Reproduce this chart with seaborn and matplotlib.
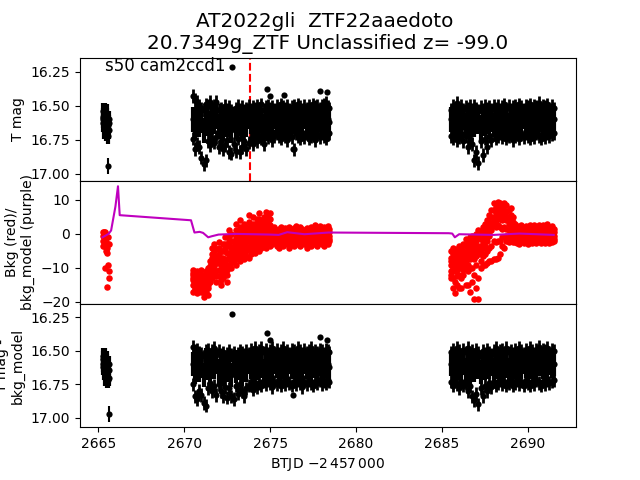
import numpy as np
import seaborn as sns
import matplotlib.pyplot as plt

# first short chunk of the sector
t_s = [2665.25, 2665.27, 2665.30, 2665.32, 2665.35, 2665.37, 2665.40, 2665.42, 2665.45, 2665.47, 2665.50, 2665.52, 2665.55, 2665.57, 2665.60, 2665.62, 2665.65, 2665.30, 2665.40, 2665.50]
top_s = [16.58, 16.63, 16.54, 16.68, 16.56, 16.66, 16.60, 16.54, 16.70, 16.62, 16.58, 16.70, 16.64, 16.72, 16.60, 16.68, 16.63, 16.60, 16.66, 16.55]
sub_s = [16.56, 16.62, 16.54, 16.66, 16.56, 16.70, 16.60, 16.54, 16.68, 16.62, 16.58, 16.72, 16.64, 16.72, 16.60, 16.70, 16.64, 16.60, 16.66, 16.56]
bkg_s = [-0.5, 0.5, -2, 0.5, -3.5, 0.3, -1.5, 0.5, -5, -2.5, -4, -5.5, -9, -1, -11, -3, -13, -3.5, -10, -15.5]

t_a = [2670.50, 2670.62, 2670.75, 2670.87, 2671.00, 2671.13, 2671.25, 2671.38, 2671.50, 2671.62,
       2671.75, 2671.88, 2672.00, 2672.12, 2672.25, 2672.38, 2672.50, 2672.62, 2672.75, 2672.88,
       2673.00, 2673.12, 2673.25, 2673.38, 2673.50, 2673.62, 2673.75, 2673.88, 2674.00, 2674.12,
       2674.25, 2674.38, 2674.50, 2674.62, 2674.75, 2674.88, 2675.00, 2675.12, 2675.25, 2675.38,
       2675.50, 2675.62, 2675.75, 2675.88, 2676.00, 2676.12, 2676.25, 2676.38, 2676.50, 2676.62,
       2676.75, 2676.88, 2677.00, 2677.12, 2677.25, 2677.38, 2677.50, 2677.62, 2677.75, 2677.88,
       2678.00, 2678.12, 2678.25, 2678.38, 2678.45]
top_hi_a = [16.43, 16.46, 16.47, 16.50, 16.52, 16.53, 16.49, 16.50, 16.47, 16.52,
            16.50, 16.47, 16.53, 16.52, 16.54, 16.50, 16.53, 16.51, 16.54, 16.55,
            16.52, 16.50, 16.53, 16.51, 16.54, 16.52, 16.50, 16.53, 16.51, 16.52,
            16.50, 16.52, 16.49, 16.53, 16.51, 16.50, 16.52, 16.51, 16.53, 16.50,
            16.52, 16.49, 16.51, 16.52, 16.50, 16.53, 16.51, 16.50, 16.52, 16.49,
            16.51, 16.53, 16.50, 16.52, 16.50, 16.52, 16.49, 16.51, 16.50, 16.52,
            16.50, 16.49, 16.48, 16.51, 16.52]
top_lo_a = [16.74, 16.82, 16.78, 16.80, 16.88, 16.93, 16.90, 16.76, 16.79, 16.74,
            16.77, 16.73, 16.80, 16.76, 16.82, 16.79, 16.75, 16.84, 16.85, 16.78,
            16.83, 16.74, 16.84, 16.80, 16.76, 16.82, 16.77, 16.74, 16.78, 16.73,
            16.76, 16.72, 16.74, 16.78, 16.71, 16.73, 16.70, 16.75, 16.72, 16.70,
            16.72, 16.74, 16.70, 16.72, 16.75, 16.71, 16.73, 16.82, 16.70, 16.72,
            16.74, 16.71, 16.73, 16.70, 16.74, 16.72, 16.70, 16.75, 16.71, 16.73,
            16.70, 16.72, 16.74, 16.71, 16.70]
mid_a = [16.60, 16.66, 16.58, 16.64, 16.61, 16.68, 16.57, 16.63, 16.66, 16.60,
         16.62, 16.58, 16.65, 16.61, 16.67, 16.59, 16.64, 16.62, 16.68, 16.60,
         16.65, 16.58, 16.63, 16.67, 16.60, 16.64, 16.58, 16.62, 16.65, 16.60,
         16.63, 16.58, 16.61, 16.65, 16.59, 16.62, 16.60, 16.64, 16.58, 16.61,
         16.63, 16.59, 16.62, 16.60, 16.64, 16.58, 16.62, 16.60, 16.63, 16.59,
         16.61, 16.64, 16.58, 16.62, 16.60, 16.63, 16.59, 16.61, 16.62, 16.60,
         16.63, 16.59, 16.61, 16.60, 16.62]
sub_hi_a = [16.47, 16.50, 16.49, 16.51, 16.52, 16.54, 16.50, 16.49, 16.53, 16.50,
            16.48, 16.52, 16.50, 16.53, 16.51, 16.54, 16.52, 16.50, 16.53, 16.51,
            16.54, 16.52, 16.50, 16.51, 16.53, 16.50, 16.52, 16.49, 16.51, 16.48,
            16.52, 16.50, 16.48, 16.51, 16.49, 16.52, 16.50, 16.48, 16.51, 16.49,
            16.52, 16.50, 16.48, 16.51, 16.50, 16.52, 16.49, 16.50, 16.52, 16.48,
            16.50, 16.52, 16.49, 16.51, 16.50, 16.48, 16.52, 16.50, 16.51, 16.49,
            16.50, 16.52, 16.49, 16.50, 16.51]
sub_lo_a = [16.75, 16.84, 16.86, 16.80, 16.83, 16.89, 16.91, 16.78, 16.74, 16.80,
            16.76, 16.83, 16.75, 16.80, 16.84, 16.77, 16.85, 16.78, 16.84, 16.86,
            16.76, 16.82, 16.75, 16.80, 16.84, 16.78, 16.76, 16.75, 16.79, 16.74,
            16.77, 16.74, 16.76, 16.73, 16.75, 16.72, 16.74, 16.77, 16.73, 16.75,
            16.72, 16.76, 16.73, 16.75, 16.72, 16.74, 16.76, 16.73, 16.75, 16.72,
            16.74, 16.77, 16.73, 16.75, 16.72, 16.74, 16.76, 16.73, 16.74, 16.72,
            16.75, 16.73, 16.74, 16.72, 16.73]
bkg1_a = [-10.5, -12, -11, -13, -10.5, -12, -11, -10, -8, -4,
          -3, -4.5, -2.5, -5, -3, -1, -3.5, 1, 0, -2,
          3, 0.5, 4, 1, 3, 2, 5.5, 2.5, 5, 3,
          4.5, 6, 3.5, 5, 6.5, 5, 6, 1.5, 2, 1,
          1.5, 2, 0.5, 1.8, 1.2, 2, 0.8, 1.6, 2.2, 1,
          2, 1.4, 0.8, 1.8, 1.2, 2, 1.5, 2.6, 1.2, 2.2,
          1, 2, 1.5, 2.2, 1.5]
bkg2_a = [-12, -14, -12.5, -14.5, -12, -14, -13, -12, -9.5, -6,
          -5, -6.5, -4, -7, -5, -3, -5.5, -1, -2, -3.5,
          1, -1.5, 2, -0.5, 1.5, 0.5, 3.5, 1, 3, 1.5,
          3, 4.5, 2, 3.5, 5, 3.5, 4.5, 0.5, 1, 0,
          0.5, 1, -0.5, 1, 0.2, 1, -0.2, 0.6, 1.2, 0,
          1, 0.4, -0.2, 0.8, 0.2, 1, 0.5, 1.5, 0.2, 1.2,
          0, 1, 0.5, 1.2, 0.5]
bkg3_a = [-13.5, -15, -14, -15.5, -13.5, -15.5, -14.5, -14, -11, -8,
          -7, -8.5, -6, -9, -7, -5, -7.5, -3, -4, -5,
          -1, -3, 0, -2, -0.5, -1, 1.5, -0.5, 1, 0,
          1, 2.5, 0.5, 2, 3, 1.5, 2.5, -0.5, 0, -1,
          -0.5, 0, -1.5, 0, -0.8, 0, -1.2, -0.4, 0.2, -1,
          0, -0.6, -1.2, -0.2, -0.8, 0, -0.5, 0.5, -0.8, 0.2,
          -1, 0, -0.5, 0.2, -0.5]
bkg4_a = [-15, -16, -15.5, -15, -15, -17, -16, -16, -12.5, -10.5,
          -9.5, -11, -8.5, -12, -10, -8, -10.5, -5.5, -7, -6.5,
          -4, -5, -3, -4.5, -3.5, -3.5, -2, -3, -1.5, -2.5,
          -1.5, -1, -1.5, -0.5, -0.5, -1, -0.5, -1.8, -1.2, -2.2,
          -2, -1.5, -2.5, -1, -2, -2, -2.2, -2, -1, -2,
          -1.5, -1.5, -2, -1.5, -2, -1.5, -1.5, -1, -2, -1,
          -2, -1.5, -1.5, -1, -1.5]
bkg5_a = [-17, -16.5, -17.5, -16, -17, -18.5, -17, -18, -14, -13,
          -12, -14, -12.5, -15, -13, -12, -14, -9, -10, -8,
          -9, -7.5, -8, -7, -7.5, -6.5, -7, -6, -5, -5.5,
          -4.5, -5, -4, -3.5, -4, -3, -3.5, -3, -2.5, -3.5,
          -4, -3, -3.5, -2.5, -3, -4, -3, -3.5, -2.5, -3,
          -3.5, -2.5, -3, -4, -3, -3.5, -2.5, -3, -3.5, -2.8,
          -3, -3.5, -2.5, -3, -2.2]
# the wide rising part of the scatter needs more points (first 36 times of t_a)
bkg6_a = [-11.5, -13, -16.5, -13.5, -16, -13, -15, -13, -13.5, -11.5,
          -11, -12.5, -10.5, -13.5, -11.5, -10, -12, -7, -8.5, -7.5,
          -6.5, -6, -5.5, -6, -5.5, -5, -4.5, -4.5, -3.5, -4,
          -3, -3, -2.5, -2, -2.5, -2]
bkg7_a = [-13, -13, -15, -13, -14.5, -16, -12, -15, -10, -7,
          -8.2, -7.5, -7.2, -8, -8.5, -4, -9, -2, -5.5, -4.2,
          -2.5, -4, -1.5, -3.2, -2, -2.2, -0.2, -1.8, -0.2, -1.2,
          0, 0.8, -0.5, 0.8, 1.2, 0.2]

t_b = [2685.50, 2685.62, 2685.75, 2685.88, 2686.00, 2686.12, 2686.25, 2686.38, 2686.50, 2686.62,
       2686.75, 2686.88, 2687.00, 2687.12, 2687.25, 2687.38, 2687.50, 2687.62, 2687.75, 2687.88,
       2688.00, 2688.12, 2688.25, 2688.38, 2688.50, 2688.62, 2688.75, 2688.88, 2689.00, 2689.12,
       2689.25, 2689.38, 2689.50, 2689.62, 2689.75, 2689.88, 2690.00, 2690.12, 2690.25, 2690.38,
       2690.50, 2690.62, 2690.75, 2690.88, 2691.00, 2691.12, 2691.25, 2691.38, 2691.50]
top_hi_b = [16.53, 16.50, 16.52, 16.48, 16.53, 16.50, 16.53, 16.51, 16.52, 16.50,
            16.53, 16.50, 16.52, 16.54, 16.51, 16.53, 16.50, 16.52, 16.51, 16.53,
            16.50, 16.52, 16.50, 16.53, 16.51, 16.49, 16.52, 16.50, 16.53, 16.51,
            16.50, 16.52, 16.49, 16.51, 16.53, 16.50, 16.51, 16.49, 16.52, 16.50,
            16.51, 16.48, 16.52, 16.50, 16.51, 16.49, 16.52, 16.50, 16.52]
top_lo_b = [16.72, 16.74, 16.71, 16.75, 16.73, 16.70, 16.76, 16.72, 16.80, 16.74,
            16.78, 16.90, 16.84, 16.92, 16.76, 16.86, 16.74, 16.80, 16.72, 16.75,
            16.71, 16.74, 16.72, 16.70, 16.73, 16.71, 16.74, 16.72, 16.70, 16.75,
            16.72, 16.70, 16.74, 16.71, 16.73, 16.70, 16.72, 16.74, 16.71, 16.73,
            16.70, 16.72, 16.74, 16.71, 16.73, 16.70, 16.72, 16.71, 16.70]
mid_b = [16.60, 16.65, 16.58, 16.63, 16.61, 16.66, 16.59, 16.64, 16.62, 16.67,
         16.60, 16.64, 16.58, 16.62, 16.66, 16.60, 16.63, 16.58, 16.62, 16.60,
         16.64, 16.59, 16.62, 16.60, 16.63, 16.58, 16.61, 16.64, 16.60, 16.62,
         16.59, 16.63, 16.60, 16.62, 16.58, 16.61, 16.64, 16.60, 16.62, 16.59,
         16.63, 16.60, 16.58, 16.62, 16.60, 16.63, 16.59, 16.61, 16.60]
sub_hi_b = [16.51, 16.49, 16.52, 16.48, 16.50, 16.53, 16.49, 16.51, 16.48, 16.52,
            16.50, 16.53, 16.49, 16.51, 16.54, 16.50, 16.52, 16.49, 16.51, 16.53,
            16.50, 16.48, 16.52, 16.50, 16.49, 16.52, 16.48, 16.51, 16.50, 16.52,
            16.49, 16.51, 16.48, 16.50, 16.52, 16.49, 16.51, 16.48, 16.50, 16.52,
            16.49, 16.47, 16.51, 16.49, 16.50, 16.48, 16.51, 16.49, 16.50]
sub_lo_b = [16.73, 16.76, 16.72, 16.75, 16.78, 16.73, 16.76, 16.74, 16.80, 16.76,
            16.84, 16.87, 16.82, 16.90, 16.78, 16.84, 16.76, 16.80, 16.74, 16.77,
            16.73, 16.76, 16.74, 16.72, 16.75, 16.73, 16.76, 16.74, 16.72, 16.76,
            16.74, 16.72, 16.75, 16.73, 16.76, 16.72, 16.74, 16.76, 16.73, 16.75,
            16.72, 16.74, 16.76, 16.73, 16.75, 16.72, 16.74, 16.73, 16.72]
bkg1_b = [-5, -4, -5, -4.5, -3.5, -4, -3, -1.5, -2.5, -1,
          -0.5, -1, 0, 1, 0.5, 2, 3, 4, 5.5, 7,
          9, 8, 9.5, 9, 8, 9, 8.5, 7, 7.5, 5,
          3, 2.2, 1.5, 2.5, 1.8, 2.4, 2, 2.6, 1.6, 2.5,
          2, 2.6, 1.8, 2.5, 2, 2.8, 1.8, 2.2, 1.5]
bkg2_b = [-7, -6, -7, -6.5, -5.5, -6, -5, -3.5, -4.5, -3,
          -2.5, -3, -2, -1, -1.5, 0, 1, 2, 3.5, 5,
          7, 6, 7.5, 7, 6, 7, 6.5, 5, 5.5, 3.5,
          2, 1, 0.5, 1.5, 0.8, 1.4, 1, 1.6, 0.6, 1.5,
          1, 1.6, 0.8, 1.5, 1, 1.8, 0.8, 1.2, 0.5]
bkg3_b = [-9, -8, -9, -8.5, -7.5, -8, -7, -6, -6.5, -5,
          -4.5, -5, -4, -3.5, -3.5, -2, -1, 0, 1.5, 3,
          5, 4, 5, 4.5, 4, 4.5, 4, 3, 3.5, 2,
          0.5, -0.2, -0.5, 0.2, -0.4, 0.2, -0.2, 0.4, -0.6, 0.2,
          -0.2, 0.4, -0.4, 0.2, -0.2, 0.5, -0.4, 0, -0.5]
bkg4_b = [-11, -10, -11, -10.5, -9.5, -10, -9, -8, -9, -7.5,
          -7, -7.5, -6.5, -6, -6, -4, -3.5, -2, -0.5, 1,
          3, 2, 2.5, 2, 1.5, 2, 1.5, 1, 1.5, 0,
          -1, -1.5, -1.8, -1, -1.6, -1, -1.4, -0.8, -1.8, -1,
          -1.4, -0.8, -1.6, -1, -1.4, -0.8, -1.6, -1.2, -1.6]
bkg5_b = [-13, -16, -17.5, -15, -16, -16, -12, -15, -15, -17,
          -14, -19, -16, -19, -10, -9, -9, -8.5, -8, -8,
          -7.5, -7.5, -7, -6, -3.5, -4, -2, -2.5, -1.5, -2.5,
          -2.5, -2.8, -3, -2.2, -2.8, -2.4, -3, -2.2, -2.8, -2.5,
          -2.6, -2.2, -2.8, -2.4, -2.6, -2, -2.8, -2.4, -2.2]
# extra rows for the first 30 times of t_b
bkg6_b = [-12, -13, -14, -12.5, -12, -13, -10.5, -10, -11, -10,
          -10, -12, -9, -13, -8, -6.5, -6, -5, -4, -3.5,
          -2, -2.5, -2, -2, -1, -1, -0.5, -0.5, 0, -1.2]
bkg7_b = [-8, -9, -6, -9.5, -6.5, -9, -6, -7, -5.5, -6,
          -5.8, -6.2, -5.2, -4.8, -4.8, -3, -2.2, -1, 0.5, 2,
          4, 3, 6, 5.5, 5, 5.8, 5, 4, 4.5, 2.8]

# odd points that stick out of the clouds, small error bars
top_out_t = [2672.80, 2674.80, 2675.00, 2675.80, 2677.90, 2678.30, 2676.35]
top_out_m = [16.215, 16.38, 16.43, 16.42, 16.39, 16.40, 16.82]
sub_out_t = [2672.80, 2674.80, 2675.00, 2677.90, 2678.30, 2676.35]
sub_out_m = [16.225, 16.37, 16.42, 16.40, 16.42, 16.83]
top_faint_t = [2665.55]
top_faint_m = [16.94]
sub_faint_t = [2665.60]
sub_faint_m = [16.97]

model_t = [2665.25, 2665.60, 2665.75, 2666.00, 2666.15, 2666.25, 2670.40, 2670.60, 2670.90, 2671.10,
           2671.40, 2671.60, 2672.00, 2673.00, 2674.00, 2675.00, 2675.50, 2676.00, 2677.00, 2678.40,
           2685.40, 2685.60, 2685.75, 2686.00, 2687.00, 2688.00, 2689.50, 2691.50]
model_v = [-1, 0, 1, 8, 14, 5.5, 4.0, 0.4, 0.6, 0.3,
           -1, -0.7, -0.2, 0, -0.1, -0.2, -0.3, 0.5, -0.1, 0.4,
           0.2, 0.1, -1, -0.1, -0.2, -0.3, 0.1, -0.3]


def plot_mags(ax, t, m, err, lw=2.0):
    ax.errorbar(t, m, yerr=err, fmt='none', ecolor='k', lw=lw, zorder=2)
    sns.scatterplot(x=t, y=m, color='k', s=20, linewidth=0, ax=ax, zorder=3)


def plot_bkg(ax, t, b):
    sns.scatterplot(x=t, y=b, color='r', s=22, linewidth=0, ax=ax, zorder=2)


fig, axes = plt.subplots(3, 1, sharex=True, figsize=(6.4, 4.8), dpi=100)
plt.subplots_adjust(hspace=0)
ax1, ax2, ax3 = axes

plot_mags(ax1, t_s, top_s, 0.06, lw=3)
plot_mags(ax1, t_a, top_hi_a, 0.05)
plot_mags(ax1, t_a, mid_a, 0.09, lw=3)
plot_mags(ax1, t_a, top_lo_a, 0.05)
plot_mags(ax1, t_b, top_hi_b, 0.05)
plot_mags(ax1, t_b, mid_b, 0.09, lw=3)
plot_mags(ax1, t_b, top_lo_b, 0.05)
plot_mags(ax1, top_out_t, top_out_m, 0.015, lw=1.5)
plot_mags(ax1, top_faint_t, top_faint_m, 0.06, lw=1.5)
ax1.axvline(2673.82, color='r', ls='--', zorder=1)
ax1.set_ylim(17.05, 16.147)
ax1.set_yticks([16.25, 16.5, 16.75, 17.0])
ax1.set_yticklabels(['16.25', '16.50', '16.75', '17.00'])
ax1.set_ylabel('T mag')
ax1.text(2665.4, 16.245, 's50 cam2ccd1', fontsize=12)
ax1.set_title('AT2022gli  ZTF22aaedoto \n20.7349g_ZTF Unclassified z= -99.0', fontsize=14.4)

plot_bkg(ax2, t_s, bkg_s)
for b in [bkg1_a, bkg2_a, bkg3_a, bkg4_a, bkg5_a]:
    plot_bkg(ax2, t_a, b)
plot_bkg(ax2, t_a[:36], bkg6_a)
plot_bkg(ax2, t_a[:36], bkg7_a)
for b in [bkg1_b, bkg2_b, bkg3_b, bkg4_b, bkg5_b]:
    plot_bkg(ax2, t_b, b)
plot_bkg(ax2, t_b[:30], bkg6_b)
plot_bkg(ax2, t_b[:30], bkg7_b)
sns.lineplot(x=model_t, y=model_v, color='m', lw=1.5, sort=False, errorbar=None, ax=ax2, zorder=3)
ax2.set_ylim(-20.6, 15.6)
ax2.set_yticks([-20, -10, 0, 10])
ax2.set_ylabel('Bkg (red)/\nbkg_model (purple)')

plot_mags(ax3, t_s, sub_s, 0.06, lw=3)
plot_mags(ax3, t_a, sub_hi_a, 0.05)
plot_mags(ax3, t_a, mid_a, 0.09, lw=3)
plot_mags(ax3, t_a, sub_lo_a, 0.05)
plot_mags(ax3, t_b, sub_hi_b, 0.05)
plot_mags(ax3, t_b, mid_b, 0.09, lw=3)
plot_mags(ax3, t_b, sub_lo_b, 0.05)
plot_mags(ax3, sub_out_t, sub_out_m, 0.015, lw=1.5)
plot_mags(ax3, sub_faint_t, sub_faint_m, 0.06, lw=1.5)
ax3.set_ylim(17.07, 16.15)
ax3.set_yticks([16.25, 16.5, 16.75, 17.0])
ax3.set_yticklabels(['16.25', '16.50', '16.75', '17.00'])
ax3.set_ylabel('T mag -\nbkg_model')
ax3.set_xlim(2663.94, 2692.8)
ax3.set_xticks([2665, 2670, 2675, 2680, 2685, 2690])
ax3.set_xlabel(r'BTJD $-2\,457\,000$')

plt.savefig('out.png', dpi=100)
